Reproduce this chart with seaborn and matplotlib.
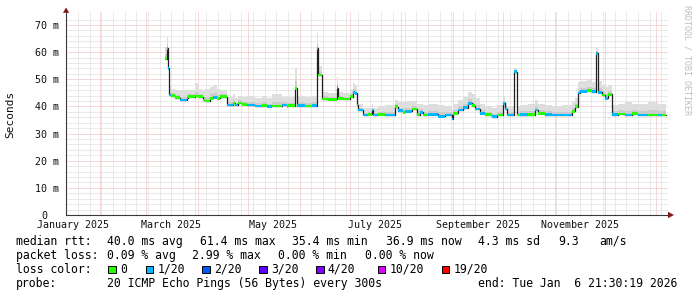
import numpy as np
import pandas as pd
import matplotlib
matplotlib.use("Agg")
import matplotlib.pyplot as plt
import matplotlib.dates as mdates
from matplotlib.patches import Rectangle, Polygon
from matplotlib.ticker import FixedLocator, NullFormatter
from matplotlib.transforms import ScaledTranslation
import seaborn as sns

W, H = 697, 297

# ---------------- data ----------------
# day offset from 2025-01-01 00:00 at which each median step begins
day_offsets = [70.3, 71.5, 72.3, 72.9, 73.9, 76.3, 79.3, 83.3, 84.3, 88.3,
               90.3, 93.3, 94.3, 97.3, 99.3, 101.3, 103.3, 107.3, 111.3, 112.3,
               114.3, 116.3, 119.3, 124.3, 128.3, 131.3, 134.3, 140.3, 143.3, 144.3,
               148.3, 149.3, 154.3, 158.3, 161.3, 162.3, 164.3, 168.3, 173.3, 174.3,
               177.3, 181.3, 183.3, 184.3, 185.3, 186.3, 189.3, 192.3, 194.3, 195.3,
               198.3, 202.3, 208.3, 210.3, 213.3, 214.3, 218.3, 221.3, 223.3, 225.3,
               228.3, 234.3, 238.3, 242.3, 243.3, 246.3, 249.3, 252.3, 254.3, 256.3,
               259.3, 262.3, 266.3, 269.3, 273.3, 274.3, 275.3, 279.8, 281.3, 283.3,
               288.3, 292.3, 294.3, 298.3, 302.3, 308.3, 314.3, 316.3, 317.9, 319.3,
               323.3, 326.3, 328.9, 329.9, 332.3, 334.3, 336.3, 338.7, 342.3, 346.3,
               350.3, 354.3, 360.3, 366.3, 368.3, 370.9]
# median rtt in ms
median_ms = [57.6, 61.4, 54.0, 44.2, 44.0, 43.2, 42.4, 43.2, 43.6, 43.8,
             43.6, 42.4, 42.0, 43.0, 43.4, 43.0, 43.6, 40.5, 41.1, 40.5,
             41.3, 40.8, 40.5, 40.2, 40.3, 40.0, 40.2, 40.5, 40.0, 40.3,
             46.7, 40.3, 40.1, 40.3, 61.4, 51.6, 42.8, 42.6, 46.9, 43.0,
             42.8, 43.6, 45.2, 44.8, 40.5, 38.7, 36.8, 37.1, 38.7, 36.8,
             37.1, 36.8, 39.9, 38.4, 37.8, 38.2, 39.1, 37.0, 37.8, 36.8,
             37.1, 36.4, 36.8, 35.4, 37.5, 38.7, 39.6, 41.1, 40.3, 39.1,
             37.5, 37.0, 36.2, 36.8, 41.1, 39.0, 36.8, 52.8, 36.8, 37.0,
             37.0, 38.7, 37.5, 37.0, 36.8, 36.8, 38.2, 39.9, 45.0, 45.6,
             45.8, 45.4, 59.6, 45.2, 44.2, 43.0, 44.5, 37.0, 37.2, 36.8,
             37.3, 36.8, 36.9, 36.9, 36.9, 36.9]
# loss class index (0 = no loss, 1 = 1/20)
loss_class = [0, 1, 1, 1, 0, 0, 1, 0, 0, 0,
              0, 0, 0, 0, 1, 0, 0, 1, 0, 1,
              0, 0, 1, 1, 0, 1, 0, 1, 0, 0,
              0, 1, 0, 1, 1, 0, 0, 0, 1, 0,
              0, 0, 1, 1, 1, 1, 1, 0, 1, 1,
              0, 1, 0, 1, 0, 1, 0, 0, 1, 0,
              1, 1, 1, 1, 0, 1, 1, 1, 0, 1,
              1, 0, 1, 0, 1, 1, 1, 1, 0, 1,
              0, 1, 0, 1, 1, 1, 0, 0, 1, 1,
              0, 1, 1, 1, 0, 1, 0, 1, 0, 1,
              0, 1, 0, 1, 0, 0]
# upper edge of the ping smoke in ms
smoke_top_ms = [62.0, 65.5, 57.0, 47.5, 46.5, 46.0, 46.0, 46.5, 46.0, 48.5,
                46.5, 46.0, 46.5, 47.0, 48.0, 46.5, 46.0, 43.5, 44.5, 43.0,
                44.0, 43.5, 44.0, 43.0, 44.0, 43.0, 44.5, 43.5, 44.0, 43.5,
                54.0, 44.0, 43.5, 44.0, 67.0, 55.0, 45.5, 45.0, 51.0, 45.5,
                45.0, 46.5, 48.5, 48.0, 43.5, 41.0, 39.5, 39.5, 41.0, 39.5,
                40.0, 40.5, 42.5, 41.5, 41.5, 42.0, 42.0, 41.0, 41.0, 40.5,
                41.0, 40.5, 40.0, 39.0, 41.0, 42.5, 43.5, 45.5, 44.5, 43.0,
                41.0, 40.0, 39.5, 40.5, 44.0, 42.0, 40.0, 54.0, 40.0, 40.5,
                41.0, 42.5, 41.0, 40.5, 40.0, 40.5, 41.5, 43.0, 49.0, 49.5,
                50.0, 49.0, 62.0, 49.5, 48.0, 47.0, 48.0, 40.5, 41.0, 41.5,
                41.0, 41.0, 41.5, 41.0, 41.0, 41.0]

loss_labels = ["0", "1/20", "2/20", "3/20", "4/20", "10/20", "19/20"]
loss_colors = ["#26ff00", "#00b8ff", "#0059ff", "#5e00ff", "#7e00ff", "#dd00ff", "#ff0000"]

y_tick_ms = [0, 10, 20, 30, 40, 50, 60, 70]
y_tick_labels = ["0", "10 m", "20 m", "30 m", "40 m", "50 m", "60 m", "70 m"]
x_label_text = ["January 2025", "March 2025", "May 2025", "July 2025",
                "September 2025", "November 2025"]
x_label_dates = ["2025-01-16", "2025-03-16", "2025-05-16", "2025-07-16",
                 "2025-09-16", "2025-11-16"]

graph_start = "2025-01-11 21:30:19"
graph_end = "2026-01-06 21:30:19"

# ---------------- build frame ----------------
base = pd.Timestamp("2025-01-01")
df = pd.DataFrame({
    "date": base + pd.to_timedelta(day_offsets, unit="D"),
    "median": np.array(median_ms) / 1000.0,
    "top": np.array(smoke_top_ms) / 1000.0,
    "loss": loss_class,
})
df["x"] = mdates.date2num(df["date"])

sns.set_theme(style="white")
plt.rcParams["font.family"] = ["DejaVu Sans Mono", "DejaVu Sans"]

fig = plt.figure(figsize=(W / 100, H / 100), dpi=100)
fig.patch.set_facecolor("white")

def fx(px):
    return px / W

def fy(py):
    return 1 - py / H

ax_l, ax_r, ax_t, ax_b = 66, 668, 12, 215
ax = fig.add_axes([fx(ax_l), fy(ax_b), (ax_r - ax_l) / W, (ax_b - ax_t) / H])
ax.set_facecolor("white")

t0 = pd.Timestamp(graph_start)
t1 = pd.Timestamp(graph_end)
span_days = (t1 - t0) / pd.Timedelta(days=1)
px_per_day = 600 / span_days
x_lo = mdates.date2num(t0)
x_hi = x_lo + (ax_r - ax_l) / px_per_day
ax.set_xlim(x_lo, x_hi)
ymax_px = ax_b - ax_t
ax.set_ylim(0, ymax_px / 27.14 * 10 / 1000.0)

# smoke
mid = df["median"] + 0.35 * (df["top"] - df["median"])
ax.fill_between(df["x"], df["median"] - 0.0004, df["top"], step="post",
                color="#dedede", lw=0, zorder=2)
ax.fill_between(df["x"], df["median"] - 0.0002, mid, step="post",
                color="#cbcbcb", lw=0, zorder=2.1)

# median line
sns.lineplot(data=df, x="x", y="median", drawstyle="steps-post",
             color="#202020", lw=0.9, ax=ax, zorder=3, estimator=None)

# loss-coloured median bands
half = 0.00048
xs = df["x"].to_numpy()
widths = np.diff(xs)
for c in sorted(set(loss_class)):
    sel = np.where(np.array(loss_class[:-1]) == c)[0]
    ax.bar(xs[sel], 2 * half, bottom=df["median"].to_numpy()[sel] - half,
           width=widths[sel], align="edge", color=loss_colors[c], lw=0, zorder=4)

ax.set_xlabel("")
ax.set_ylabel("")

# grid
ax.xaxis.set_major_locator(mdates.MonthLocator())
ax.xaxis.set_minor_locator(mdates.WeekdayLocator(byweekday=mdates.SU))
ax.xaxis.set_major_formatter(NullFormatter())
ax.xaxis.set_minor_formatter(NullFormatter())
ax.set_yticks([v / 1000.0 for v in y_tick_ms])
ax.set_yticklabels(y_tick_labels)
minor_y = [v / 1000.0 for v in range(2, 73, 2) if v % 10 != 0]
ax.yaxis.set_minor_locator(FixedLocator(minor_y))
ax.grid(which="minor", axis="both", color="#d6d6d6", ls=(0, (1, 1)), lw=0.72, zorder=0)
ax.grid(which="major", axis="both", color="#efb2b2", ls=(0, (1, 1)), lw=0.72, zorder=0.5)
ax.set_axisbelow(True)

for s in ["top", "right"]:
    ax.spines[s].set_visible(False)
for s in ["left", "bottom"]:
    ax.spines[s].set_color("#3a3a3a")
    ax.spines[s].set_linewidth(0.8)
    ax.spines[s].set_zorder(6)

ax.tick_params(axis="x", which="both", length=0, labelbottom=False)
ax.tick_params(axis="y", which="major", length=2, width=0.7, color="#3a3a3a",
               pad=3, labelsize=7.2, labelcolor="#111111")
ax.tick_params(axis="y", which="minor", length=0)
zero_lab = ax.get_yticklabels()[0]
zero_lab.set_transform(zero_lab.get_transform() +
                       ScaledTranslation(-0.12, 0, fig.dpi_scale_trans))

sec = ax.secondary_xaxis("bottom")
sec.set_xticks(mdates.date2num(pd.to_datetime(x_label_dates)), labels=x_label_text)
sec.tick_params(length=0, pad=3.5, labelsize=7.2, labelcolor="#111111")
sec.spines["bottom"].set_visible(False)

# arrows
fig.add_artist(Polygon([(fx(63), fy(12.8)), (fx(69.2), fy(12.8)), (fx(66.1), fy(7.5))],
                       closed=True, transform=fig.transFigure, color="#7d1a1a", lw=0))
fig.add_artist(Polygon([(fx(668), fy(211.8)), (fx(668), fy(218.2)), (fx(674), fy(215))],
                       closed=True, transform=fig.transFigure, color="#7d1a1a", lw=0))

# texts
fig.text(fx(10), fy(114), "Seconds", rotation=90, ha="center", va="center",
         fontsize=8, color="#111111")
fig.text(fx(687), fy(60), "RRDTOOL / TOBI OETIKER", rotation=270, ha="center",
         va="center", fontsize=6, color="#bdbdbd")

LFS = 8.3
def ltext(x, y, s):
    fig.text(fx(x), fy(y), s, ha="left", va="baseline", fontsize=LFS, color="#000000")

b1, b2, b3, b4 = 245, 259, 273, 287
for x, s in [(16, "median rtt:"), (107.3, "40.0 ms avg"), (200, "61.4 ms max"),
             (291.7, "35.4 ms min"), (386, "36.9 ms now"), (478.3, "4.3 ms sd"),
             (558.3, "9.3"), (599.3, "am/s")]:
    ltext(x, b1, s)
for x, s in [(16, "packet loss:"), (107.3, "0.09 % avg"), (191.7, "2.99 % max"),
             (278.3, "0.00 % min"), (365, "0.00 % now")]:
    ltext(x, b2, s)
ltext(16, b3, "loss color:")
sw_x = [108.3, 145.7, 202.3, 259.3, 316, 377.7, 441.7]
for x, lab, col in zip(sw_x, loss_labels, loss_colors):
    fig.add_artist(Rectangle((fx(x), fy(273.3)), 7.7 / W, 7.7 / H,
                             transform=fig.transFigure, facecolor=col,
                             edgecolor="black", lw=0.7))
    ltext(x + 11.7, b3, lab)
ltext(16, b4, "probe:")
ltext(107.3, b4, "20 ICMP Echo Pings (56 Bytes) every 300s")
ltext(478.3, b4, "end: Tue Jan  6 21:30:19 2026")

fig.savefig("out.png", dpi=100, facecolor="white")
